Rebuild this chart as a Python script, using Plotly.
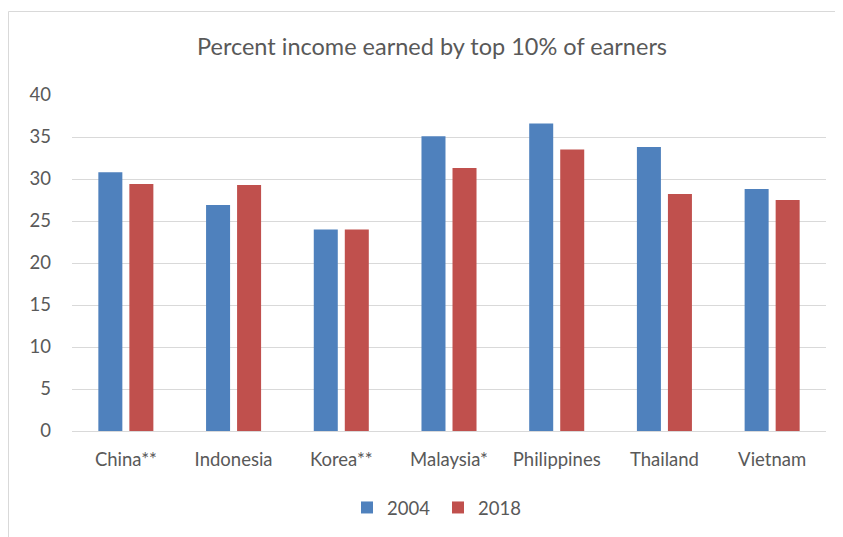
import plotly.graph_objects as go

categories = ["China**", "Indonesia", "Korea**", "Malaysia*", "Philippines", "Thailand", "Vietnam"]
values_2004 = [30.8, 26.9, 24.0, 35.1, 36.6, 33.8, 28.8]
values_2018 = [29.4, 29.3, 24.0, 31.3, 33.5, 28.2, 27.5]
y_ticks = [0, 5, 10, 15, 20, 25, 30, 35, 40]

FONT = "Lato, 'Open Sans', sans-serif"
GRAY = "#595959"

fig = go.Figure()
fig.add_trace(go.Bar(name="2004", x=categories, y=values_2004, marker_color="#4F81BD", marker_line_width=0))
fig.add_trace(go.Bar(name="2018", x=categories, y=values_2018, marker_color="#C0504D", marker_line_width=0))

fig.update_layout(
    width=843, height=537,
    margin=dict(l=64, r=25, t=87, b=114),
    paper_bgcolor="white", plot_bgcolor="white",
    barmode="group", bargap=0.424, bargroupgap=0.226,
    font=dict(family=FONT, color=GRAY, size=18),
    title=dict(text="Percent income earned by top 10% of earners",
               x=0.503, xanchor="center", y=1 - 39 / 537, yanchor="middle",
               font=dict(family=FONT, size=23.5, color=GRAY)),
    legend=dict(orientation="h", x=0.3647, xanchor="left", y=-0.229, yanchor="middle",
                entrywidth=46, entrywidthmode="pixels",
                font=dict(family=FONT, size=18.5, color=GRAY), itemwidth=30, traceorder="normal"),
    xaxis=dict(showgrid=False, showline=True, linecolor="#d9d9d9", linewidth=1,
               ticks="", ticklabelstandoff=12, tickfont=dict(size=18.5, color=GRAY)),
    yaxis=dict(range=[0, 40], tickvals=y_ticks, showgrid=True, gridcolor="#d9d9d9", gridwidth=1,
               zeroline=False, showline=False, ticks="", ticklabelstandoff=20,
               tickfont=dict(size=18.5, color=GRAY)),
    shapes=[dict(type="rect", xref="paper", yref="paper",
                 x0=-0.0842, x1=1.5, y0=-1.0, y1=1.2485,
                 line=dict(color="#d9d9d9", width=1), fillcolor="rgba(0,0,0,0)", layer="below")],
)

fig.write_html("out.html")
